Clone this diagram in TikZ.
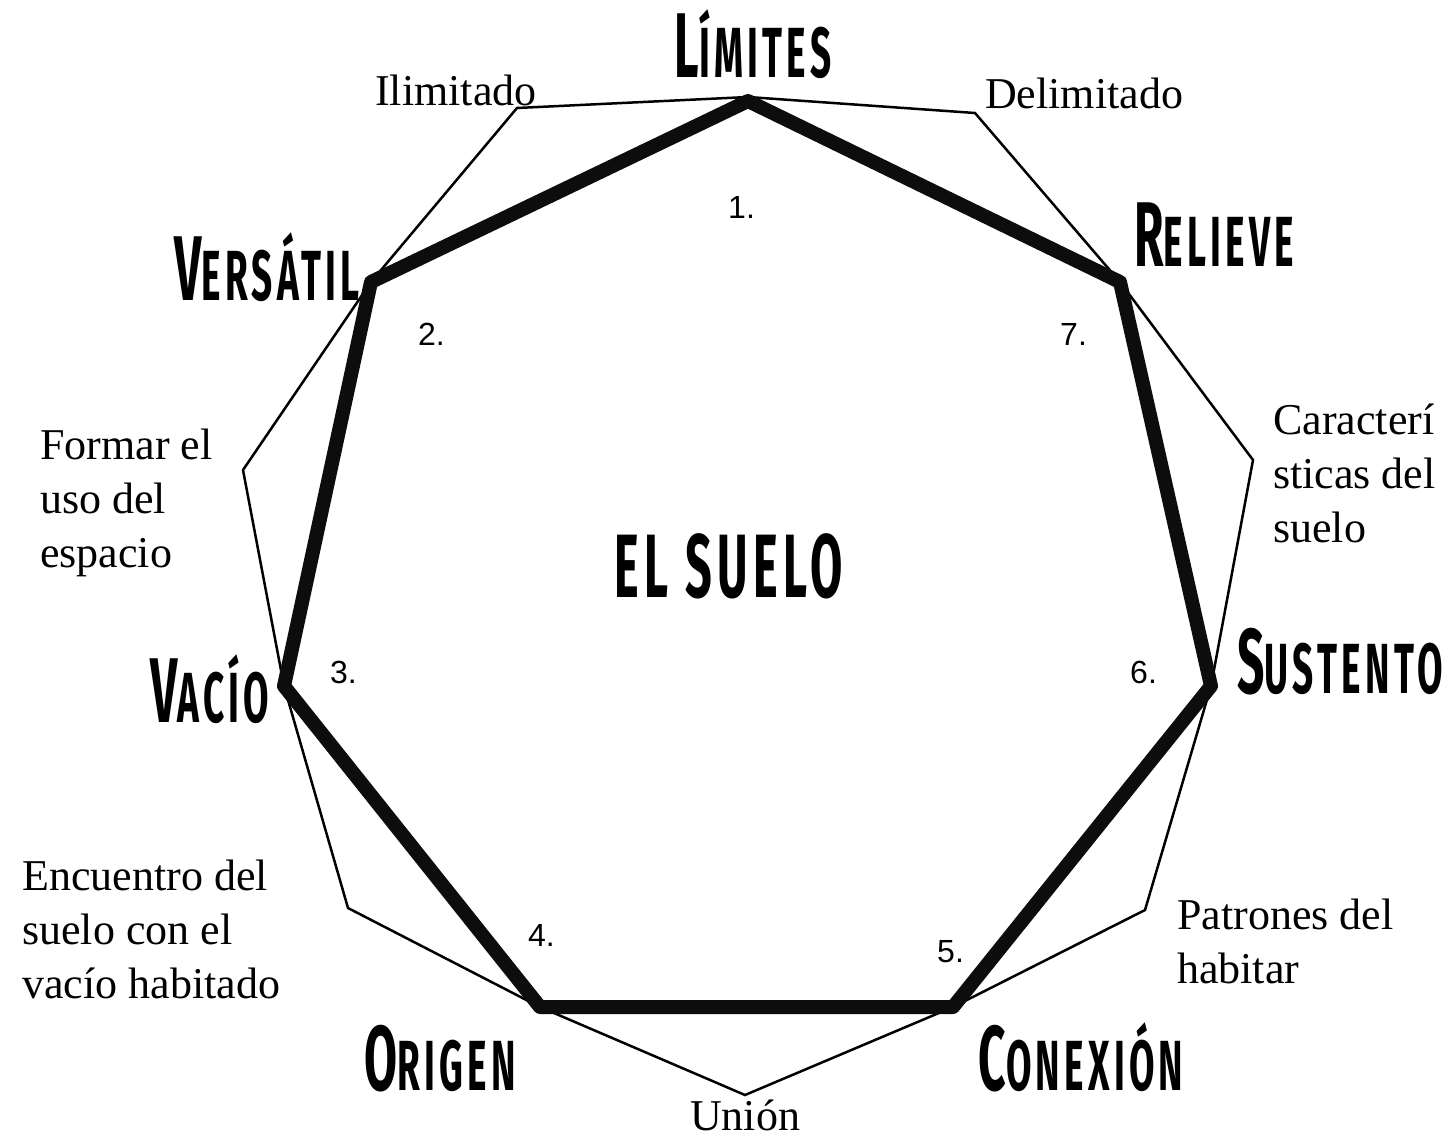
\documentclass[tikz,border=0pt]{standalone}
\usepackage{fontspec}
\setmainfont{Liberation Serif}
\newfontfamily\headfont[FakeStretch=0.52,LetterSpace=6]{Fira Sans}
\newfontfamily\numfont{Liberation Sans}
\newcommand\hdtxt[2]{{\fontsize{92}{92}\selectfont #1}{\fontsize{71}{71}\selectfont #2}}
\begin{document}
\begin{tikzpicture}[x=1pt,y=-1pt,
  heading/.style={font=\headfont\bfseries, inner sep=0pt, anchor=base},
  body/.style={font=\fontsize{44}{54}\selectfont, inner sep=0pt, align=left, anchor=base west},
  num/.style={font=\numfont\fontsize{32}{32}\selectfont, inner sep=0pt, anchor=base west},
  thin/.style={line width=2.5pt, line join=miter},
  thick/.style={line width=14pt, line join=round, black!95}]
\useasboundingbox[fill=white] (0,0) rectangle (1453,1144);
% vertices of the heptagon
\coordinate (a1) at (748,101);
\coordinate (a2) at (371,282);
\coordinate (a3) at (284,686);
\coordinate (a4) at (540,1007);
\coordinate (a5) at (953,1007);
\coordinate (a6) at (1211,686);
\coordinate (a7) at (1120,282);
% outer points
\coordinate (b1) at (975,113);
\coordinate (b7) at (1253,460);
\coordinate (b6) at (1145,910);
\coordinate (b5) at (745,1095);
\coordinate (b4) at (348,908);
\coordinate (b3) at (243,470);
\coordinate (b2) at (517,108);
\coordinate (c1) at (748,97);
\draw[thin] (c1) -- (b1) -- (a7) -- (b7) -- (a6) -- (b6) -- (a5) -- (b5) -- (a4) -- (b4) -- (a3) -- (b3) -- (a2) -- (b2) -- cycle;
\draw[thick] (a1) -- (a2) -- (a3) -- (a4) -- (a5) -- (a6) -- (a7) -- cycle;
% headings
\node[heading] (h1) at (753,77) {\hdtxt{L}{ÍMITES}};
\node[heading] (h2) at (267,300) {\hdtxt{V}{ERSÁTIL}};
\node[heading] (h7) at (1214,266) {\hdtxt{R}{ELIEVE}};
\node[heading] (h3) at (210,722) {\hdtxt{V}{ACÍO}};
\node[heading] (h6) at (1340,693) {\hdtxt{S}{USTENTO}};
\node[heading] (h4) at (440,1090) {\hdtxt{O}{RIGEN}};
\node[heading] (h5) at (1081,1090) {\hdtxt{C}{ONEXIÓN}};
\node[heading, font=\headfont\bfseries\fontsize{90}{90}\selectfont] (center) at (729,597) {EL SUELO};
% body labels (anchor = baseline of last line)
\node[body] (t1) at (375,105) {Ilimitado};
\node[body] (t2) at (985,108) {Delimitado};
\node[body] (t3) at (40,567) {Formar el\\uso del\\espacio};
\node[body] (t4) at (1273,542) {Caracterí\\sticas del\\suelo};
\node[body] (t5) at (22,998) {Encuentro del\\suelo con el\\vacío habitado};
\node[body] (t6) at (1177,983) {Patrones del\\habitar};
\node[body, anchor=base] (t7) at (745,1130) {Unión};
% numbers
\node[num] (n1) at (728,218) {1.};
\node[num] (n2) at (418,345) {2.};
\node[num] (n3) at (330,683) {3.};
\node[num] (n4) at (528,946) {4.};
\node[num] (n5) at (937,962) {5.};
\node[num] (n6) at (1130,683) {6.};
\node[num] (n7) at (1060,345) {7.};
\end{tikzpicture}
\end{document}
